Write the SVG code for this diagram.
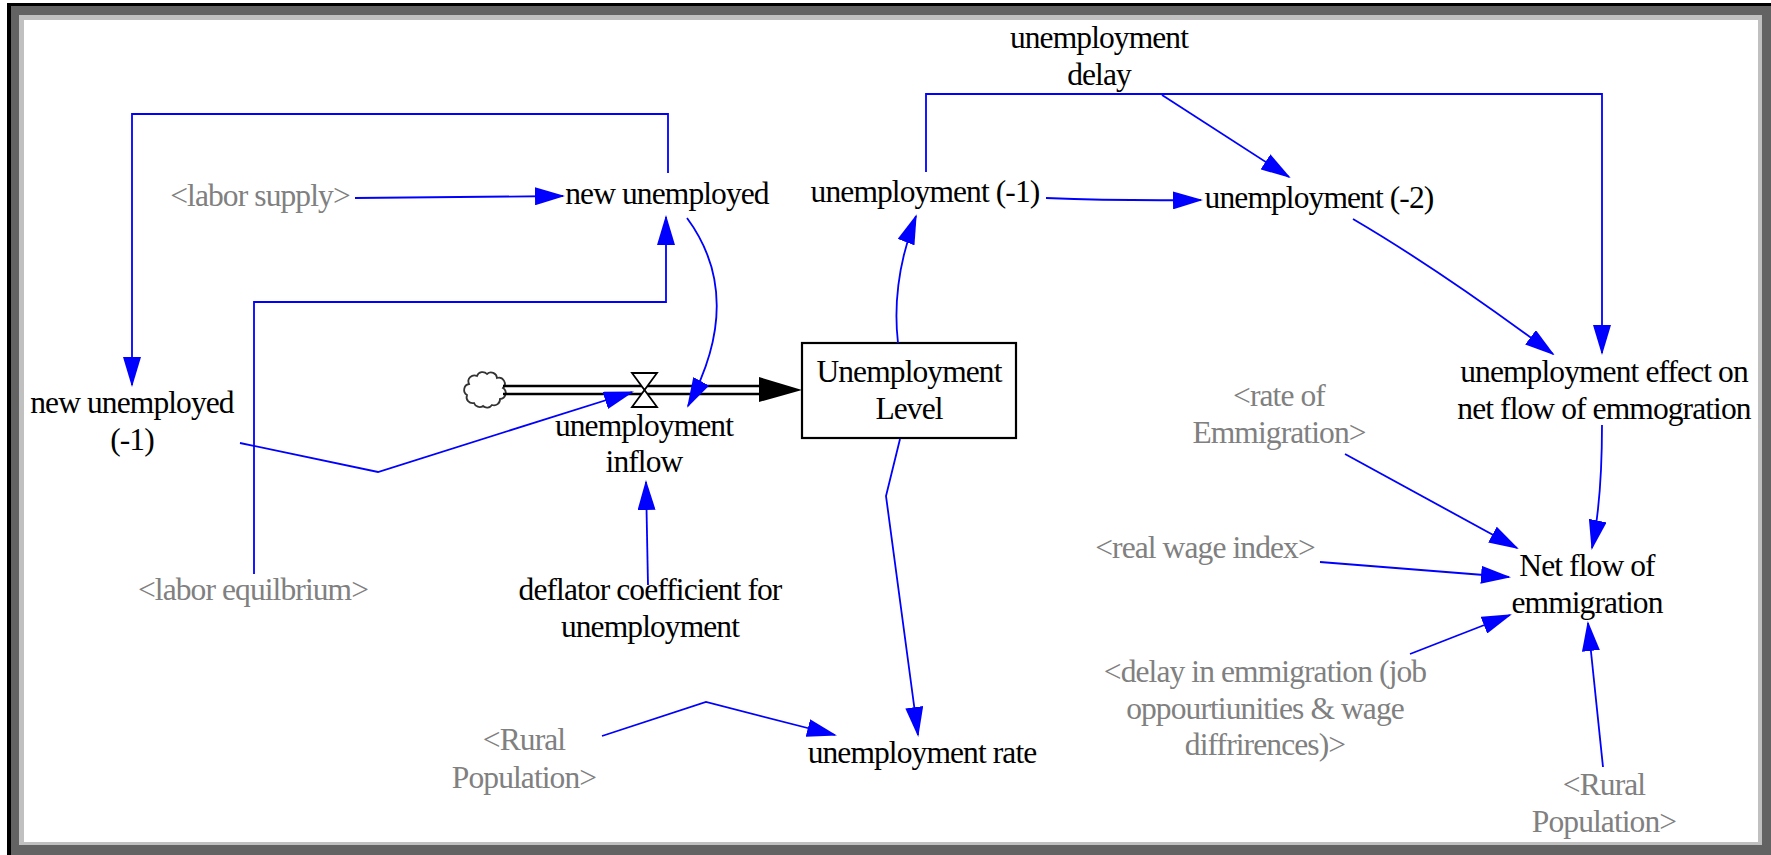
<svg xmlns="http://www.w3.org/2000/svg" width="1771" height="855" viewBox="0 0 1771 855">
  <style>
    text { font-family: "Liberation Serif", "Times New Roman", serif; font-size: 31.5px; letter-spacing: -0.9px; text-anchor: middle; }
    .var { fill: #000; }
    .shadow { fill: #808080; }
    .link { fill: none; stroke: #0000ff; stroke-width: 1.8; marker-end: url(#arrow); }
  </style>
  <defs>
    <marker id="arrow" viewBox="0 0 30 18" markerWidth="30" markerHeight="18" refX="28" refY="9" orient="auto" markerUnits="userSpaceOnUse">
      <path d="M0,0 L30,9 L0,18 Z" fill="#0000ff"/>
    </marker>
  </defs>

  <!-- sunken window frame -->
  <rect x="0" y="0" width="1771" height="855" fill="#fff"/>
  <rect x="7" y="3" width="1764" height="852" fill="#000"/>
  <rect x="11" y="6" width="1760" height="849" fill="#636363"/>
  <rect x="19" y="15" width="1743" height="830" fill="#c0c0c0"/>
  <rect x="24" y="20" width="1734" height="822" fill="#fff"/>

  <!-- source cloud -->
  <g id="source-cloud">
    <path d="M469,384 a6,6 0 0 1 8,-8 a6,6 0 0 1 10,-2 a6,6 0 0 1 10,4 a6,6 0 0 1 6,10 a6,6 0 0 1 -3,11 a6,6 0 0 1 -8,6 a6,6 0 0 1 -9,1 a6,6 0 0 1 -9,-3 a6,6 0 0 1 -7,-8 a6,6 0 0 1 2,-11 z" fill="#fff" stroke="#333" stroke-width="1.8"/>
  </g>

  <!-- flow pipe with valve -->
  <g id="unemployment-inflow">
    <line x1="503" y1="386" x2="761" y2="386" stroke="#000" stroke-width="2.6"/>
    <line x1="503" y1="394" x2="761" y2="394" stroke="#000" stroke-width="2.6"/>
    <polygon points="759,377 802,390 759,402" fill="#000"/>
    <polygon points="632,373 657,373 644.5,390" fill="#fff" stroke="#000" stroke-width="1.8"/>
    <polygon points="644.5,390 632,407 657,407" fill="#fff" stroke="#000" stroke-width="1.8"/>
    <text class="var" x="644" y="436">unemployment</text>
    <text class="var" x="644" y="472">inflow</text>
  </g>

  <!-- stock -->
  <g id="unemployment-level">
    <rect x="802" y="343" width="214" height="95" fill="#fff" stroke="#000" stroke-width="2.2"/>
    <text class="var" x="909" y="382">Unemployment</text>
    <text class="var" x="909" y="419">Level</text>
  </g>

  <!-- causal links -->
  <g id="connectors">
    <path class="link" d="M355,198 L563,196"/>
    <path class="link" d="M668,173 V114 H132 V385"/>
    <path class="link" d="M254,574 V302 H666 V217"/>
    <path class="link" d="M687,218 Q746,298 688,406"/>
    <path class="link" d="M240,443 L378,472 L632,392"/>
    <path class="link" d="M648,585 L646,482"/>
    <path class="link" d="M898,343 C893,300 900,258 916,216"/>
    <path class="link" d="M1046,198 Q1120,201 1201,200"/>
    <path class="link" d="M926,172 V94 H1602 V353"/>
    <path class="link" d="M1162,95 L1289,177"/>
    <path class="link" d="M1353,219 Q1440,270 1553,354"/>
    <path class="link" d="M1602,425 Q1602,500 1592,548"/>
    <path class="link" d="M1345,454 L1517,548"/>
    <path class="link" d="M1320,562 L1509,577"/>
    <path class="link" d="M1410,654 L1510,615"/>
    <path class="link" d="M1603,767 L1588,623"/>
    <path class="link" d="M900,439 L886,496 L918,735"/>
    <path class="link" d="M602,736 L706,702 L835,735"/>
  </g>

  <!-- variables -->
  <g id="labor-supply"><text class="shadow" x="260" y="206">&lt;labor supply&gt;</text></g>
  <g id="new-unemployed"><text class="var" x="667" y="204">new unemployed</text></g>
  <g id="unemployment-1"><text class="var" x="925" y="202">unemployment (-1)</text></g>
  <g id="unemployment-2"><text class="var" x="1319" y="208">unemployment (-2)</text></g>
  <g id="unemployment-delay">
    <text class="var" x="1099" y="48">unemployment</text>
    <text class="var" x="1099" y="85">delay</text>
  </g>
  <g id="new-unemployed-1">
    <text class="var" x="132" y="413">new unemployed</text>
    <text class="var" x="132" y="450">(-1)</text>
  </g>
  <g id="deflator-coefficient">
    <text class="var" x="650" y="600">deflator coefficient for</text>
    <text class="var" x="650" y="637">unemployment</text>
  </g>
  <g id="labor-equilibrium"><text class="shadow" x="253" y="600">&lt;labor equilbrium&gt;</text></g>
  <g id="rural-population-left">
    <text class="shadow" x="524" y="750">&lt;Rural</text>
    <text class="shadow" x="524" y="788">Population&gt;</text>
  </g>
  <g id="unemployment-rate"><text class="var" x="922" y="763">unemployment rate</text></g>
  <g id="unemployment-effect">
    <text class="var" x="1604" y="382">unemployment effect on</text>
    <text class="var" x="1604" y="419">net flow of emmogration</text>
  </g>
  <g id="rate-of-emmigration">
    <text class="shadow" x="1279" y="406">&lt;rate of</text>
    <text class="shadow" x="1279" y="443">Emmigration&gt;</text>
  </g>
  <g id="real-wage-index"><text class="shadow" x="1205" y="558">&lt;real wage index&gt;</text></g>
  <g id="net-flow-of-emmigration">
    <text class="var" x="1587" y="576">Net flow of</text>
    <text class="var" x="1587" y="613">emmigration</text>
  </g>
  <g id="delay-in-emmigration">
    <text class="shadow" x="1265" y="682">&lt;delay in emmigration (job</text>
    <text class="shadow" x="1265" y="719">oppourtiunities &amp; wage</text>
    <text class="shadow" x="1265" y="755">diffrirences)&gt;</text>
  </g>
  <g id="rural-population-right">
    <text class="shadow" x="1604" y="795">&lt;Rural</text>
    <text class="shadow" x="1604" y="832">Population&gt;</text>
  </g>
</svg>
